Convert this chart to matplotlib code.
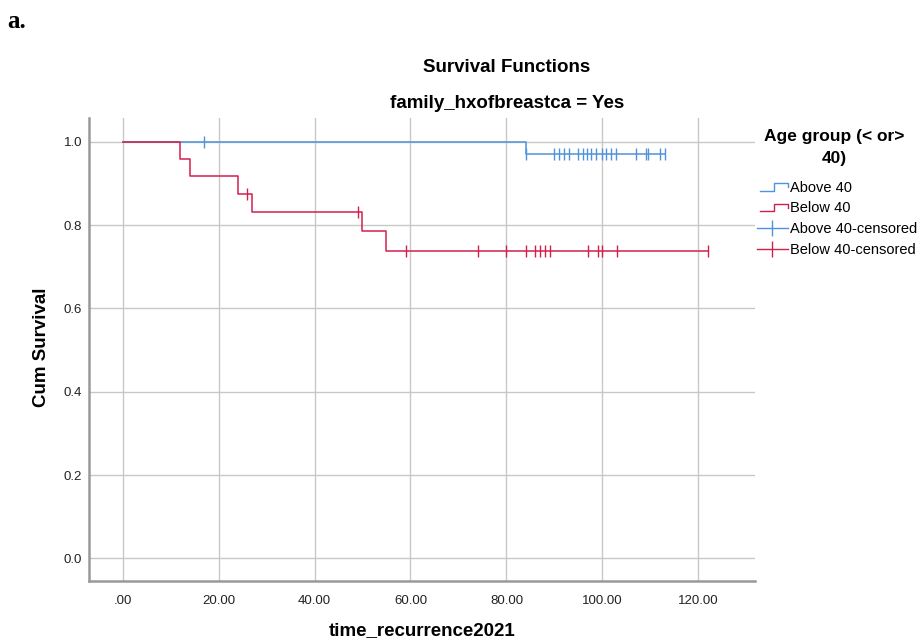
import matplotlib.pyplot as plt
from matplotlib.lines import Line2D
from matplotlib.legend_handler import HandlerBase

# Kaplan-Meier steps
above_times = [0, 84, 113]
above_surv = [1.0, 0.971, 0.971]
below_times = [0, 12, 14, 24, 27, 50, 55, 122]
below_surv = [1.0, 0.958, 0.917, 0.875, 0.831, 0.785, 0.738, 0.738]

# censored observations
above_cens_t = [17, 84, 90, 91, 92, 93, 95, 96, 96.7, 97.6, 98.7, 100, 100.8,
                101.8, 102.8, 107, 109, 109.6, 112, 113]
above_cens_s = [1.0] + [0.971] * 19
below_cens_t = [26, 49, 59, 74, 80, 84, 86, 87, 88, 89, 97, 99, 100, 103, 122]
below_cens_s = [0.875, 0.831] + [0.738] * 13

xticks = [0, 20, 40, 60, 80, 100, 120]
xticklabels = ['.00', '20.00', '40.00', '60.00', '80.00', '100.00', '120.00']
yticks = [0.0, 0.2, 0.4, 0.6, 0.8, 1.0]
labels = ['Above 40', 'Below 40', 'Above 40-censored', 'Below 40-censored']

BLUE = '#4f92de'
RED = '#d21f4c'


class HandlerStep(HandlerBase):
    # small step-shaped legend key, like SPSS draws it
    def create_artists(self, legend, orig_handle, xdescent, ydescent,
                       width, height, fontsize, trans):
        x0, x1 = -xdescent, -xdescent + width
        xm = x0 + width * 0.55
        ylo, yhi = -ydescent + height * 0.1, -ydescent + height * 0.8
        line = Line2D([x0 + width * 0.1, xm, xm, x1, x1],
                      [ylo, ylo, yhi, yhi, yhi - height * 0.4],
                      color=orig_handle.get_color(), lw=1.0, transform=trans)
        return [line]


plt.rcParams['font.family'] = ['Liberation Sans', 'DejaVu Sans']

fig = plt.figure(figsize=(9.22, 6.41), dpi=100)
ax = fig.add_axes([0.0965, 0.0936, 0.7224, 0.7223])

ax.step(above_times, above_surv, where='post', color=BLUE, lw=1.1)
ax.step(below_times, below_surv, where='post', color=RED, lw=1.1)
ax.plot(above_cens_t, above_cens_s, ls='none', marker='|', ms=8, mew=1.0, color=BLUE)
ax.plot(below_cens_t, below_cens_s, ls='none', marker='|', ms=8, mew=1.0, color=RED)

ax.set_xlim(-7, 131.8)
ax.set_ylim(-0.054, 1.057)
ax.set_xticks(xticks)
ax.set_xticklabels(xticklabels)
ax.set_yticks(yticks)
ax.set_yticklabels([f'{v:.1f}' for v in yticks])
ax.tick_params(axis='both', length=0, labelsize=9.5, colors='#222222')
ax.tick_params(axis='x', pad=10)
ax.tick_params(axis='y', pad=5)
ax.grid(True, color='#c8c8c8', lw=1.0)
ax.set_axisbelow(True)
for side in ['top', 'right']:
    ax.spines[side].set_visible(False)
for side in ['left', 'bottom']:
    ax.spines[side].set_color('#999999')
    ax.spines[side].set_linewidth(1.8)

fig.text(0.458, 0.017, 'time_recurrence2021', ha='center', va='center',
         fontsize=13.5, fontweight='bold')
fig.text(0.045, 0.459, 'Cum Survival', ha='center', va='center', rotation=90,
         fontsize=13.5, fontweight='bold')

fig.text(0.55, 0.895, 'Survival Functions', ha='center', va='center',
         fontsize=13.5, fontweight='bold')
fig.text(0.55, 0.839, 'family_hxofbreastca = Yes', ha='center', va='center',
         fontsize=13.5, fontweight='bold')
fig.text(0.008, 0.966, 'a.', ha='left', va='center', fontsize=18,
         fontweight='bold', family='Liberation Serif')

# legend title drawn as two lines, centred over the keys
fig.text(0.9046, 1 - 137 / 641, 'Age group (< or>', ha='center', va='center',
         fontsize=12.5, fontweight='bold')
fig.text(0.9046, 1 - 158 / 641, '40)', ha='center', va='center',
         fontsize=12.5, fontweight='bold')

handles = [
    Line2D([], [], color=BLUE),
    Line2D([], [], color=RED),
    Line2D([], [], color=BLUE, marker='|', ms=11, mew=1.0, lw=1.0),
    Line2D([], [], color=RED, marker='|', ms=11, mew=1.0, lw=1.0),
]
leg = fig.legend(handles, labels, loc='upper left', bbox_to_anchor=(0.821, 0.7183),
                 frameon=False, fontsize=10.5, handlelength=2.1, handletextpad=0.15,
                 labelspacing=0.47, borderaxespad=0, borderpad=0,
                 handler_map={handles[0]: HandlerStep(), handles[1]: HandlerStep()})

fig.savefig('out.png', dpi=100)
